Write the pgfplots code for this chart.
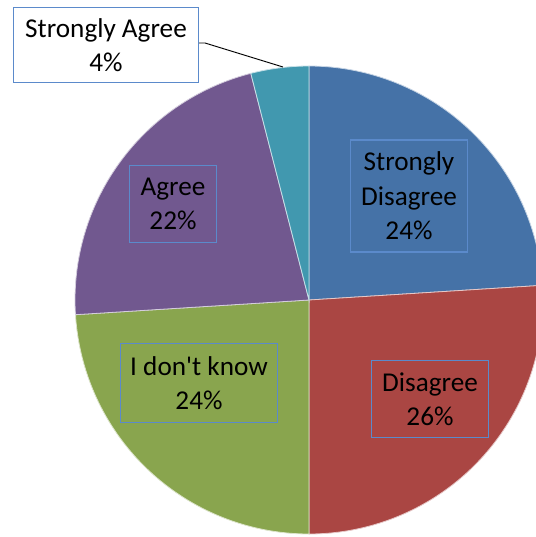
\documentclass[border=0pt]{standalone}
\usepackage{fontspec}
\setmainfont{Carlito}[Ligatures=TeXOff]
\usepackage{pgfplots}
\pgfplotsset{compat=1.18}
\definecolor{cSD}{HTML}{4572A7}
\definecolor{cD}{HTML}{AA4643}
\definecolor{cIDK}{HTML}{89A54E}
\definecolor{cA}{HTML}{71588F}
\definecolor{cSA}{HTML}{4198AF}
\definecolor{boxc}{HTML}{5B8ACB}

% pie centre and radius, in pixel units of the axis
\def\cx{309}
\def\cy{300}
\def\R{234}

% #1 = share already used (%), #2 = share of this slice (%), #3 = colour
\newcommand\slice[3]{%
  \addplot[fill=#3, draw=white!70!#3, line width=0.6pt, samples=90,
    variable=\t, domain=90-3.6*(#1+#2):90-3.6*(#1)]
    ({\cx+\R*cos(\t)}, {\cy-\R*sin(\t)}) -- (\cx,\cy) -- cycle;}

\tikzset{lbl/.style={draw=boxc, line width=0.8pt, inner sep=0pt,
  font=\fontsize{20.4}{25.8}\selectfont, text=black, align=center}}

\begin{document}
\begin{tikzpicture}
\begin{axis}[
  scale only axis,
  width=402pt, height=402.75pt,
  xmin=0, xmax=536, ymin=0, ymax=537,
  y dir=reverse,
  hide axis,
]
  % shares: Strongly Disagree 24, Disagree 26, I don't know 24, Agree 22, Strongly Agree 4
  \slice{0}{24}{cSD}
  \slice{24}{26}{cD}
  \slice{50}{24}{cIDK}
  \slice{74}{22}{cA}
  \slice{96}{4}{cSA}

  \node[lbl, minimum width=88pt, minimum height=84pt]
    at (409,196) {Strongly\\Disagree\\24\%};
  \node[lbl, minimum width=88pt, minimum height=58pt]
    at (430,399) {Disagree\\26\%};
  \node[lbl, minimum width=118pt, minimum height=59pt]
    at (199,383) {I don't know\\24\%};
  \node[lbl, minimum width=65pt, minimum height=58pt]
    at (173,204) {Agree\\22\%};

  \draw[black, line width=0.7pt] (199,43) -- (205,43) -- (283,67);
  \node[lbl, fill=white, minimum width=139pt, minimum height=56pt]
    at (106,45) {Strongly Agree\\4\%};
\end{axis}
\pgfresetboundingbox
\useasboundingbox (current axis.south west) rectangle (current axis.north east);
\end{tikzpicture}
\end{document}
